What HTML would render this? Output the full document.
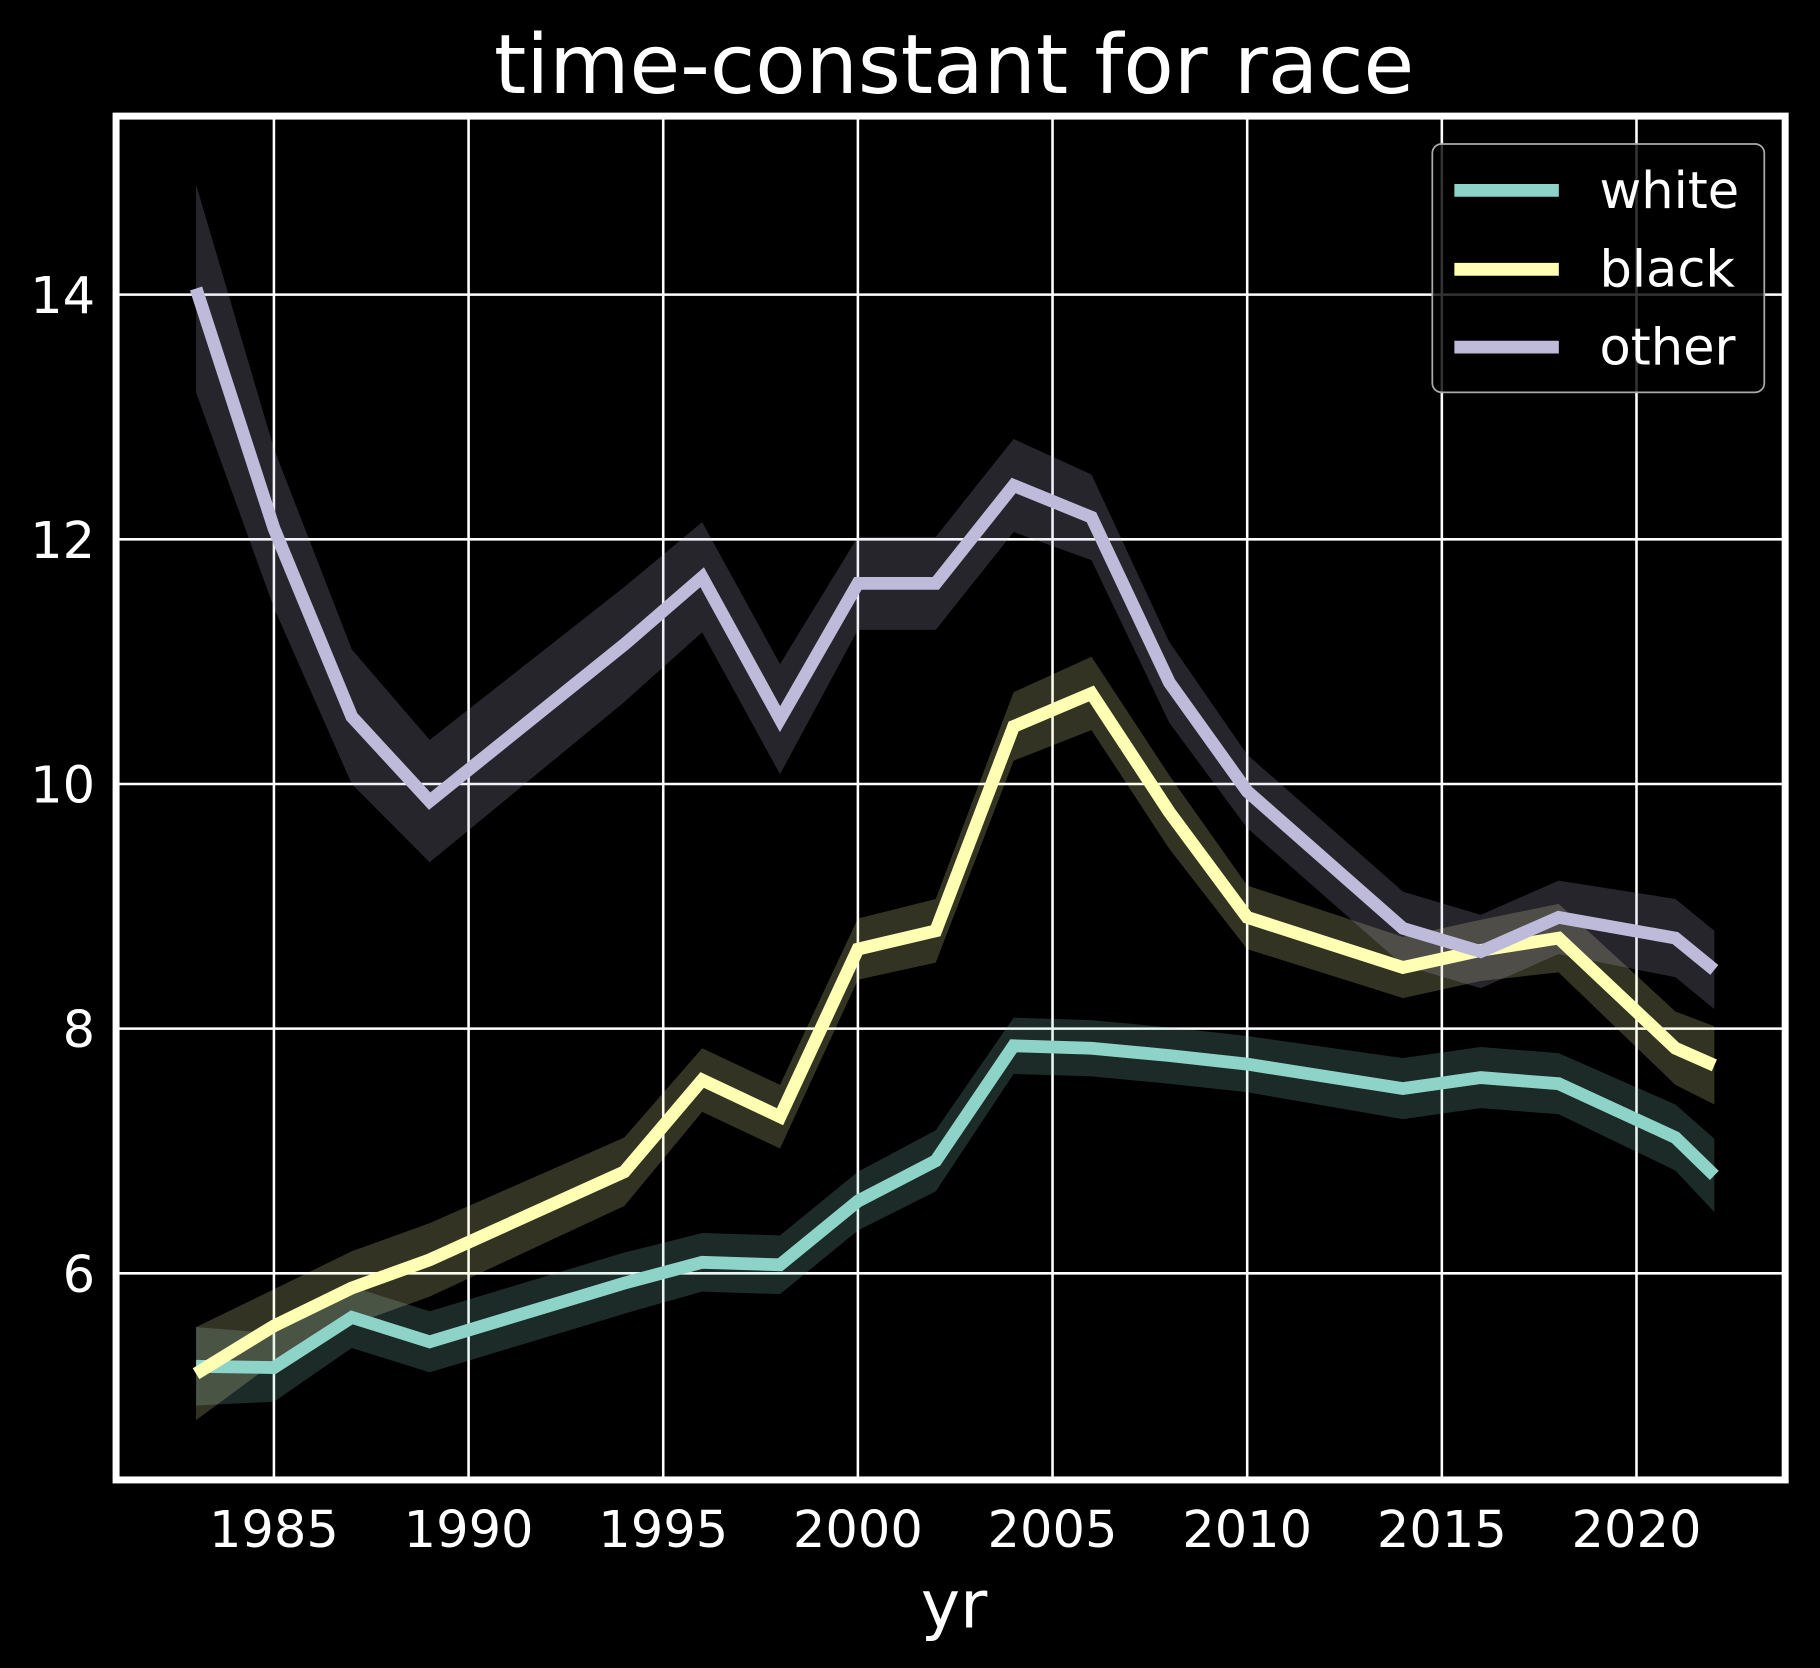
<!DOCTYPE html>
<html><head><meta charset="utf-8"><style>html,body{margin:0;padding:0;background:#000;}svg{display:block;}</style></head>
<body>
<svg id="chart" xmlns="http://www.w3.org/2000/svg" width="1820" height="1668" viewBox="0 0 1568 1437" font-family="'DejaVu Sans','Liberation Sans',sans-serif">
<rect width="1568" height="1437" fill="#000"/>
<text x="822" y="80" fill="#fff" font-size="71" text-anchor="middle">time-constant for race</text>
<g id="grid"></g>
<g id="bands"></g>
<g id="lines"></g>
<rect x="100" y="100" width="1438" height="1175" fill="none" stroke="#fff" stroke-width="6"/>
<g id="ticks"></g>
<text x="822" y="1402" fill="#fff" font-size="57" text-anchor="middle">yr</text>
<g>
<rect x="1234" y="124" width="286" height="214" rx="8" fill="#000" fill-opacity="0.8" stroke="#aaa" stroke-width="1.5"/>
<g><line x1="1253" y1="164" x2="1343" y2="164" stroke="#8dd3c7" stroke-width="11"/><text x="1378" y="179" fill="#fff" font-size="44">white</text></g>
<g><line x1="1253" y1="232" x2="1343" y2="232" stroke="#ffffb3" stroke-width="11"/><text x="1378" y="247" fill="#fff" font-size="44">black</text></g>
<g><line x1="1253" y1="299" x2="1343" y2="299" stroke="#bebada" stroke-width="11"/><text x="1378" y="314" fill="#fff" font-size="44">other</text></g>
</g>
</svg>
<script>
const years=[1983,1985,1987,1989,1994,1996,1998,2000,2002,2004,2006,2008,2010,2014,2016,2018,2021,2022];
const white=[5.24,5.23,5.64,5.44,5.92,6.09,6.07,6.59,6.92,7.86,7.84,7.78,7.71,7.51,7.6,7.55,7.11,6.8];
const black=[5.18,5.57,5.88,6.11,6.83,7.58,7.28,8.65,8.8,10.47,10.74,9.77,8.91,8.5,8.64,8.74,7.84,7.7];
const other=[14.05,12.09,10.55,9.86,11.14,11.69,10.53,11.64,11.64,12.44,12.18,10.83,9.94,8.82,8.63,8.91,8.74,8.48];
const whiteErr=[0.32,0.28,0.25,0.25,0.25,0.24,0.24,0.24,0.25,0.23,0.23,0.23,0.23,0.25,0.25,0.25,0.27,0.3];
const blackErr=[0.38,0.3,0.3,0.3,0.28,0.26,0.26,0.25,0.26,0.28,0.3,0.3,0.26,0.25,0.25,0.28,0.3,0.32];
const otherErr=[0.85,0.65,0.55,0.5,0.47,0.45,0.45,0.38,0.38,0.38,0.35,0.33,0.3,0.3,0.3,0.3,0.32,0.32];
const xTicks=[1985,1990,1995,2000,2005,2010,2015,2020];
const yTicks=[6,8,10,12,14];
const X=v=>236+(v-1985)*33.54;
const Y=v=>1097-(v-6)*105.4;
const NS='http://www.w3.org/2000/svg';
function mk(t,a,p){const e=document.createElementNS(NS,t);for(const k in a)e.setAttribute(k,a[k]);p.appendChild(e);return e;}
const grid=document.getElementById('grid'),ticks=document.getElementById('ticks');
xTicks.forEach(t=>{
 const l=mk('line',{x1:X(t),x2:X(t),y1:100,y2:1275,stroke:'#fff','stroke-width':2.2},grid);
 
 
 const tx=mk('text',{x:X(t),y:1333,fill:'#fff','font-size':44,'text-anchor':'middle'},ticks);
 tx.textContent=t;
 
 
});
yTicks.forEach(t=>{
 const l=mk('line',{x1:100,x2:1538,y1:Y(t),y2:Y(t),stroke:'#fff','stroke-width':2.2},grid);
 
 
 const tx=mk('text',{x:82,y:Y(t)+16,fill:'#fff','font-size':44,'text-anchor':'end'},ticks);
 tx.textContent=t;
 
 
});
const series=[['white',white,whiteErr,'#8dd3c7'],['black',black,blackErr,'#ffffb3'],['other',other,otherErr,'#bebada']];
const bands=document.getElementById('bands'),lines=document.getElementById('lines');
series.forEach(([n,v,e,c])=>{
 const up=years.map((y,i)=>X(y)+','+Y(v[i]+e[i]));
 const dn=years.map((y,i)=>X(y)+','+Y(v[i]-e[i])).reverse();
 const b=mk('polygon',{points:up.concat(dn).join(' '),fill:c,'fill-opacity':0.2},bands);
 
 
});
series.forEach(([n,v,e,c])=>{
 const l=mk('polyline',{points:years.map((y,i)=>X(y)+','+Y(v[i])).join(' '),fill:'none',stroke:c,'stroke-width':11,'stroke-linejoin':'miter'},lines);
 
 
});
</script>
</body></html>
